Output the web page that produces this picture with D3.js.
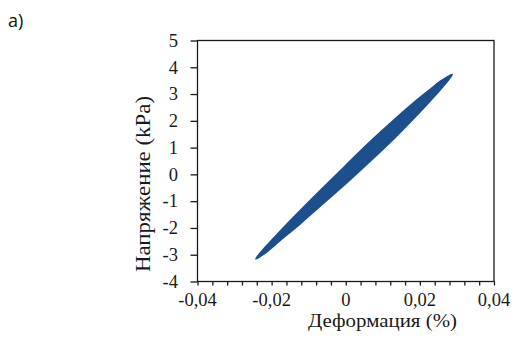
<!DOCTYPE html>
<html><head><meta charset="utf-8">
<script src="https://cdn.jsdelivr.net/npm/d3@7"></script>
<style>body{margin:0;background:#fff}svg{display:block}
.serif{font-family:"Times New Roman","Liberation Serif","DejaVu Serif",serif}
.sans{font-family:"Open Sans","Liberation Sans",sans-serif}</style>
</head><body>
<svg id="c" width="514" height="338"></svg>
<script>
// Data
const xTicks = [-0.04, -0.02, 0, 0.02, 0.04];
const xTickLabels = ["-0,04", "-0,02", "0", "0,02", "0,04"];
const yTicks = [-4, -3, -2, -1, 0, 1, 2, 3, 4, 5];
const yTickLabels = ["-4", "-3", "-2", "-1", "0", "1", "2", "3", "4", "5"];
// upper (loading) branch of hysteresis envelope
const upperStrain = [-0.02421, -0.02178, -0.01773, -0.01233, -0.00694, -0.00019, 0.00656, 0.01331, 0.01870, 0.02275, 0.02599, 0.02869];
const upperStress = [-3.15, -2.74, -2.14, -1.37, -0.62, 0.30, 1.21, 2.06, 2.71, 3.16, 3.51, 3.73];
// lower (unloading) branch
const lowerStrain = [0.02599, 0.02275, 0.01870, 0.01331, 0.00656, -0.00019, -0.00694, -0.01233, -0.01773, -0.02178];
const lowerStress = [3.25, 2.75, 2.15, 1.39, 0.50, -0.36, -1.18, -1.84, -2.46, -2.93];

const svg = d3.select("#c");
const L = 197.5, R = 494, T = 40.5, B = 281.5;
const x = d3.scaleLinear().domain([-0.04, 0.04]).range([L, R]);
const y = d3.scaleLinear().domain([-4, 5]).range([B, T]);
const ink = "#1a1a1a";
const fs = 18.5;

// frame
svg.append("rect").attr("x", L).attr("y", T).attr("width", R - L).attr("height", B - T)
  .attr("fill", "none").attr("stroke", ink).attr("stroke-width", 1.3);

// x axis
const xAxis = d3.axisBottom(x).tickValues(d3.range(0, 21).map(i => -0.04 + i * 0.004))
  .tickSize(4).tickFormat("");
const gx = svg.append("g").attr("transform", `translate(0,${B})`).call(xAxis);
gx.select(".domain").remove();
gx.selectAll("line").attr("stroke", ink).attr("stroke-width", 1.3);
svg.append("g").selectAll("text").data(xTicks).join("text").attr("class", "serif")
  .attr("x", d => x(d)).attr("y", 305.5).attr("text-anchor", "middle")
  .attr("font-size", fs).attr("fill", ink)
  .text((d, i) => xTickLabels[i]);

// y axis
const yAxis = d3.axisLeft(y).tickValues(yTicks).tickSize(7).tickFormat("");
const gy = svg.append("g").attr("transform", `translate(${L},0)`).call(yAxis);
gy.select(".domain").remove();
gy.selectAll("line").attr("stroke", ink).attr("stroke-width", 1.3);
svg.append("g").selectAll("text").data(yTicks).join("text").attr("class", "serif")
  .attr("x", 178).attr("y", d => y(d) + 6.3).attr("text-anchor", "end")
  .attr("font-size", fs).attr("fill", ink)
  .text((d, i) => yTickLabels[i]);

// titles
svg.append("text").attr("class", "serif").attr("x", 308).attr("y", 327)
  .attr("textLength", 149).attr("lengthAdjust", "spacingAndGlyphs")
  .attr("font-size", 19.5).attr("fill", ink)
  .text("Деформация (%)");
svg.append("text").attr("class", "serif").attr("transform", "translate(150,272) rotate(-90)")
  .attr("textLength", 176).attr("lengthAdjust", "spacingAndGlyphs")
  .attr("font-size", 20).attr("fill", ink)
  .text("Напряжение (kPa)");
svg.append("text").attr("class", "sans").attr("x", 8).attr("y", 27)
  .attr("font-size", 18).attr("fill", "#111")
  .text("a)");

// loop
const pts = upperStrain.map((s, i) => [s, upperStress[i]])
  .concat(lowerStrain.map((s, i) => [s, lowerStress[i]]));
const line = d3.line().x(d => x(d[0])).y(d => y(d[1])).curve(d3.curveCatmullRomClosed);
svg.append("path").attr("d", line(pts))
  .attr("fill", "#1c4f8c").attr("stroke", "#1c4f8c").attr("stroke-width", 2).attr("stroke-linejoin", "round");
</script>
</body></html>
